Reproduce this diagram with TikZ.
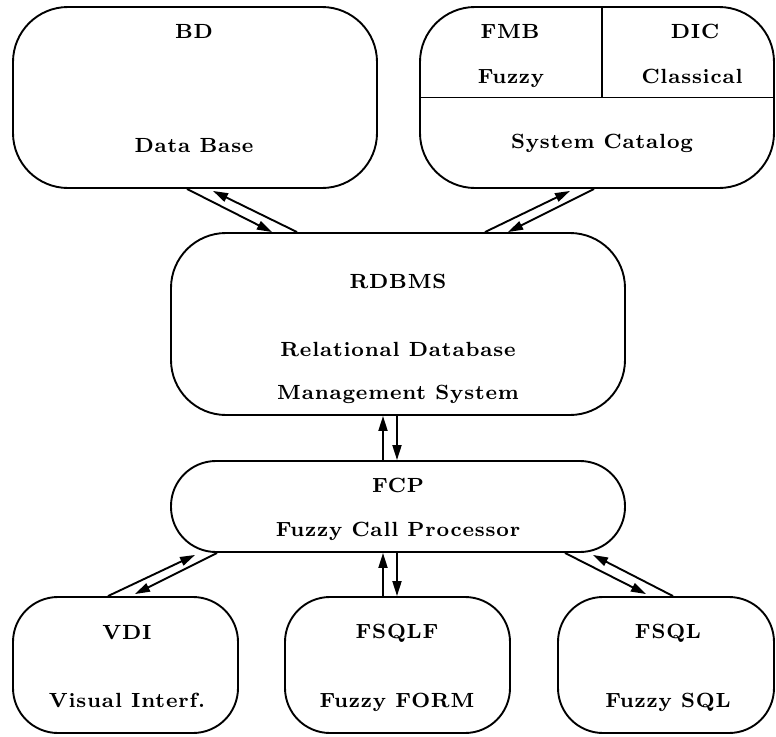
\documentclass[tikz,border=0pt]{standalone}
\usepackage{fontspec}
\newfontfamily\lblfont{lmroman8-bold.otf}[LetterSpace=4]
\usetikzlibrary{arrows.meta,calc}
\begin{document}
\begin{tikzpicture}[x=1pt,y=-1pt,
  box/.style={draw,line width=1.9pt,rounded corners=#1,inner sep=0pt},
  lbl/.style={anchor=base,inner sep=0pt,font=\lblfont\fontsize{20.5}{24}\selectfont},
  conn/.style={line width=1.9pt,-{Triangle[length=15pt,width=9pt]}}
]
\useasboundingbox (0,0) rectangle (776,736);

% boxes
\node[box=55pt,minimum width=364pt,minimum height=181pt] (bd) at (195,97.5) {};
\node[box=55pt,minimum width=354pt,minimum height=181pt] (cat) at (597,97.5) {};
\node[box=55pt,minimum width=454pt,minimum height=182pt] (rdbms) at (398,324) {};
\node[box=45pt,minimum width=454pt,minimum height=91pt] (fcp) at (398,506.5) {};
\node[box=45pt,minimum width=225pt,minimum height=136pt] (vdi) at (125.5,665) {};
\node[box=45pt,minimum width=225pt,minimum height=136pt] (fsqlf) at (397.5,665) {};
\node[box=45pt,minimum width=216pt,minimum height=136pt] (fsql) at (666,665) {};

% catalog dividers
\draw[line width=1.9pt] (cat.west) -- (cat.east);
\draw[line width=1.9pt] ($(cat.north)+(5,0)$) -- ($(cat.center)+(5,0)$);

% labels
\node[lbl] (tbd) at (194,38) {BD};
\node[lbl] (tdb) at (194,152) {Data Base};
\node[lbl] (tfmb) at (510,38) {FMB};
\node[lbl] (tfz) at (511,83) {Fuzzy};
\node[lbl] (tdic) at (695,38) {DIC};
\node[lbl] (tcl) at (692,83) {Classical};
\node[lbl] (tsc) at (602,148) {System Catalog};
\node[lbl] (trd) at (398,288) {RDBMS};
\node[lbl] (trel) at (398,356) {Relational Database};
\node[lbl] (tman) at (398,399) {Management System};
\node[lbl] (tfcp) at (398,492) {FCP};
\node[lbl] (tfcpp) at (398,536) {Fuzzy Call Processor};
\node[lbl] (tvdi) at (127,639) {VDI};
\node[lbl] (tvis) at (127,707) {Visual Interf.};
\node[lbl] (tfsf) at (397,638) {FSQLF};
\node[lbl] (tfform) at (397,707) {Fuzzy FORM};
\node[lbl] (tfsql) at (668,638) {FSQL};
\node[lbl] (tfsqlf) at (668,707) {Fuzzy SQL};

% BD <-> RDBMS
\draw[conn] ($(bd.south)+(-8,0)$) -- ($(rdbms.north)+(-126,0)$);
\draw[conn] ($(rdbms.north)+(-101,0)$) -- ($(bd.south)+(18,2)$);
% Catalog <-> RDBMS
\draw[conn] ($(rdbms.north)+(87,0)$) -- ($(cat.south)+(-27,2)$);
\draw[conn] ($(cat.south)+(-3,0)$) -- ($(rdbms.north)+(110,0)$);
% RDBMS <-> FCP
\draw[conn] ($(fcp.north)+(-15,0)$) -- ($(rdbms.south)+(-15,0)$);
\draw[conn] ($(rdbms.south)+(-1,0)$) -- ($(fcp.north)+(-1,0)$);
% FCP <-> FSQLF
\draw[conn] ($(fsqlf.north)+(-14.5,0)$) -- ($(fcp.south)+(-15,0)$);
\draw[conn] ($(fcp.south)+(-1,0)$) -- ($(fsqlf.north)+(-0.5,0)$);
% FCP <-> VDI
\draw[conn] ($(vdi.north)+(-17.5,0)$) -- ($(fcp.south west)+(25,2)$);
\draw[conn] ($(fcp.south west)+(47,0)$) -- ($(vdi.north)+(9.5,-2)$);
% FCP <-> FSQL
\draw[conn] ($(fcp.south east)+(-61,0)$) -- ($(fsql.north)+(-20,-2)$);
\draw[conn] ($(fsql.north)+(7,0)$) -- ($(fcp.south east)+(-33,2)$);
\end{tikzpicture}
\end{document}
